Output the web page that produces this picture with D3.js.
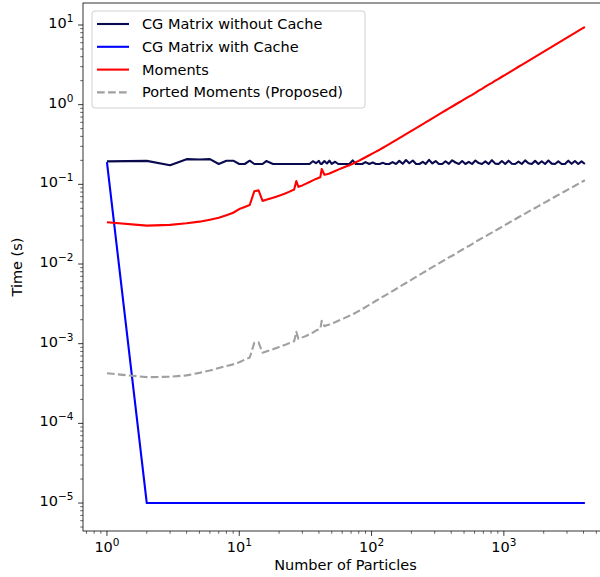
<!DOCTYPE html>
<html>
<head>
<meta charset="utf-8">
<script src="https://cdn.jsdelivr.net/npm/d3@7"></script>
<style>
  body { margin: 0; background: #fff; }
  text { font-family: "DejaVu Sans", sans-serif; fill: #000; }
</style>
</head>
<body>
<div id="chart"></div>
<script>
// particle counts (shared x for the three measured series)
var particles = [1,2,3,4,5,6,7,8,9,10,11,12,13,14,15,16,18,20,22,24,26,27,28,30,32,34,36,38,40,41,42,44,46,48,50,53,56,60,64,68,72,76,80,85,90,96,
  102,108,115,122,128,136,144,153,162,172,182,193,205,217,230,244,256,272,288,305,323,342,362,384,407,431,457,484,512,543,575,609,645,683,724,767,812,861,912,966,
  1024,1085,1149,1217,1290,1366,1448,1534,1625,1722,1824,1932,2048,2170,2299,2435,2580,2733,2896,3068,3250,3444,3648,3865,4096];

var cgNoCache = [0.194,0.197,0.174,0.207,0.205,0.207,0.180,0.198,0.198,0.180,0.180,0.198,0.180,0.180,0.180,0.196,0.180,0.180,0.180,0.180,0.180,0.180,0.180,0.180,0.180,
  0.180,0.195,0.184,0.197,0.182,0.180,0.196,0.183,0.198,0.181,0.192,0.180,0.180,0.180,0.180,0.200,0.180,0.180,0.180,0.190,0.180,
  0.188,0.180,0.180,0.186,0.180,0.180,0.190,0.180,0.197,0.181,0.202,0.184,0.199,0.180,0.180,0.192,0.180,0.203,0.183,0.196,0.180,0.180,0.195,0.181,0.200,0.188,0.180,0.196,0.180,0.192,0.180,0.199,0.185,0.180,0.194,0.180,0.201,0.182,0.180,0.196,
  0.180,0.198,0.181,0.180,0.193,0.180,0.200,0.184,0.180,0.197,0.180,0.195,0.180,0.199,0.182,0.180,0.194,0.180,0.180,0.198,0.181,0.196,0.180,0.194,0.180];

var moments = [0.0334,0.0303,0.031,0.0325,0.034,0.036,0.038,0.041,0.044,0.049,0.052,0.055,0.082,0.084,0.062,0.064,0.068,0.072,0.076,0.081,0.086,0.110,0.093,0.097,0.102,0.107,0.112,0.117,0.121,0.123,0.156,0.132,0.134,0.137,0.141,0.147,0.153,0.160,0.167,0.174,0.181,0.189,0.197,0.208,0.219,0.232,
  0.245,0.257,0.272,0.288,0.302,0.320,0.338,0.359,0.380,0.404,0.427,0.452,0.480,0.508,0.538,0.571,0.598,0.636,0.673,0.712,0.754,0.798,0.845,0.896,0.949,1.005,1.065,1.126,1.19,1.26,1.33,1.41,1.50,1.58,1.68,1.78,1.88,2.00,2.11,2.24,
  2.37,2.51,2.66,2.82,2.99,3.16,3.35,3.55,3.76,3.98,4.22,4.47,4.74,5.02,5.32,5.64,5.97,6.33,6.70,7.10,7.52,7.97,8.44,8.94,9.44];

var ported = [4.25e-4,3.8e-4,3.85e-4,4.0e-4,4.3e-4,4.6e-4,4.95e-4,5.25e-4,5.5e-4,5.85e-4,6.3e-4,6.7e-4,1.03e-3,1.04e-3,7.7e-4,8.0e-4,8.5e-4,9.1e-4,9.6e-4,1.02e-3,1.07e-3,1.41e-3,1.15e-3,1.20e-3,1.25e-3,1.32e-3,1.38e-3,1.46e-3,1.51e-3,1.54e-3,1.94e-3,1.66e-3,1.70e-3,1.74e-3,1.79e-3,1.86e-3,1.94e-3,2.04e-3,2.14e-3,2.24e-3,2.35e-3,2.45e-3,2.57e-3,2.72e-3,2.88e-3,3.07e-3,
  3.26e-3,3.46e-3,3.67e-3,3.89e-3,4.08e-3,4.33e-3,4.58e-3,4.86e-3,5.15e-3,5.46e-3,5.78e-3,6.12e-3,6.50e-3,6.88e-3,7.29e-3,7.73e-3,8.11e-3,8.61e-3,9.12e-3,9.64e-3,1.02e-2,1.08e-2,1.14e-2,1.21e-2,1.27e-2,1.35e-2,1.43e-2,1.51e-2,1.60e-2,1.68e-2,1.78e-2,1.89e-2,2.00e-2,2.11e-2,2.22e-2,2.35e-2,2.48e-2,2.62e-2,2.77e-2,2.93e-2,
  3.10e-2,3.27e-2,3.46e-2,3.65e-2,3.86e-2,4.07e-2,4.30e-2,4.54e-2,4.78e-2,5.05e-2,5.33e-2,5.63e-2,5.94e-2,6.27e-2,6.62e-2,6.98e-2,7.36e-2,7.76e-2,8.18e-2,8.63e-2,9.10e-2,9.60e-2,0.1012,0.1067,0.1125];

// cached CG matrix: only sampled at a few counts
var cacheParticles = [1, 2, 4096];
var cgCache = [0.19, 1e-5, 1e-5];

var seriesNames = ["CG Matrix without Cache", "CG Matrix with Cache", "Moments", "Ported Moments (Proposed)"];
var seriesColors = ["#0a0a4e", "#0000ff", "#ff0000", "#a0a0a0"];
var xTickExps = [0, 1, 2, 3];
var yTickExps = [1, 0, -1, -2, -3, -4, -5];

var W = 600, H = 577;
var plot = { left: 83, right: 608, top: 3, bottom: 531 };
var fontPx = "14.5px", supPx = "10.5px";

var svg = d3.select("#chart").append("svg")
    .attr("width", W)
    .attr("height", H);

var x = d3.scaleLog()
    .domain([Math.pow(10, -0.181), Math.pow(10, 3.787)])
    .range([plot.left, plot.right]);

var y = d3.scaleLog()
    .domain([Math.pow(10, -5.351), Math.pow(10, 1.276)])
    .range([plot.bottom, plot.top]);

svg.append("defs").append("clipPath").attr("id", "clip")
  .append("rect")
    .attr("x", plot.left).attr("y", plot.top)
    .attr("width", plot.right - plot.left).attr("height", plot.bottom - plot.top);

// minor ticks at 2..9 x 10^k
function minorTicks(lo, hi) {
    var out = [];
    for (var e = lo; e <= hi; e++) {
        for (var m = 2; m < 10; m++) out.push(m * Math.pow(10, e));
    }
    return out;
}

function expText(d) { return d < 0 ? "\u2212" + (-d) : d; }

var xAxis = svg.append("g").attr("transform", "translate(0," + plot.bottom + ")");
xAxis.selectAll(".minor").data(minorTicks(-1, 3).filter(function(v) { return v >= x.domain()[0] && v <= x.domain()[1]; }))
  .enter().append("line")
    .attr("x1", function(d) { return x(d); }).attr("x2", function(d) { return x(d); })
    .attr("y1", 0).attr("y2", 2.8)
    .attr("stroke", "#000").attr("stroke-width", 0.6);
xAxis.selectAll(".major").data(xTickExps).enter().append("line")
    .attr("x1", function(d) { return x(Math.pow(10, d)); }).attr("x2", function(d) { return x(Math.pow(10, d)); })
    .attr("y1", 0).attr("y2", 4.9)
    .attr("stroke", "#000").attr("stroke-width", 0.8);
var xl = xAxis.selectAll(".lab").data(xTickExps).enter().append("text")
    .attr("x", function(d) { return x(Math.pow(10, d)); })
    .attr("y", 21)
    .attr("text-anchor", "middle")
    .style("font-size", fontPx);
xl.append("tspan").text("10");
xl.append("tspan").attr("dy", -6).style("font-size", supPx).text(expText);

var yAxis = svg.append("g").attr("transform", "translate(" + plot.left + ",0)");
yAxis.selectAll(".minor").data(minorTicks(-6, 1).filter(function(v) { return v >= y.domain()[0] && v <= y.domain()[1]; }))
  .enter().append("line")
    .attr("y1", function(d) { return y(d); }).attr("y2", function(d) { return y(d); })
    .attr("x1", 0).attr("x2", -2.8)
    .attr("stroke", "#000").attr("stroke-width", 0.6);
yAxis.selectAll(".major").data(yTickExps).enter().append("line")
    .attr("y1", function(d) { return y(Math.pow(10, d)); }).attr("y2", function(d) { return y(Math.pow(10, d)); })
    .attr("x1", 0).attr("x2", -4.9)
    .attr("stroke", "#000").attr("stroke-width", 0.8);
var yl = yAxis.selectAll(".lab").data(yTickExps).enter().append("text")
    .attr("x", -9.5)
    .attr("y", function(d) { return y(Math.pow(10, d)) + 3; })
    .attr("text-anchor", "end")
    .style("font-size", fontPx);
yl.append("tspan").text("10");
yl.append("tspan").attr("dy", -6).style("font-size", supPx).text(expText);

// axis titles
svg.append("text")
    .attr("x", (plot.left + plot.right) / 2 - 0)
    .attr("y", 570)
    .attr("text-anchor", "middle")
    .style("font-size", fontPx)
    .text("Number of Particles");
svg.append("text")
    .attr("transform", "translate(22," + ((plot.top + plot.bottom) / 2) + ") rotate(-90)")
    .attr("text-anchor", "middle")
    .style("font-size", fontPx)
    .text("Time (s)");

// lines
var line = d3.line()
    .x(function(d) { return x(d[0]); })
    .y(function(d) { return y(d[1]); });

var g = svg.append("g").attr("clip-path", "url(#clip)");

function drawSeries(xs, ys, color, dash) {
    g.append("path")
        .datum(d3.zip(xs, ys))
        .attr("d", line)
        .attr("fill", "none")
        .attr("stroke", color)
        .attr("stroke-width", 2.1)
        .attr("stroke-linejoin", "round")
        .attr("stroke-dasharray", dash || null);
}

drawSeries(particles, cgNoCache, seriesColors[0]);
drawSeries(cacheParticles, cgCache, seriesColors[1]);
drawSeries(particles, moments, seriesColors[2]);
drawSeries(particles, ported, seriesColors[3], "7.7,3.3");

// frame (right edge falls just outside the picture)
svg.append("rect")
    .attr("x", plot.left).attr("y", plot.top)
    .attr("width", plot.right - plot.left).attr("height", plot.bottom - plot.top)
    .attr("fill", "none").attr("stroke", "#000").attr("stroke-width", 0.8);

// legend
var legend = svg.append("g").attr("transform", "translate(92,11)");
legend.append("rect")
    .attr("width", 273).attr("height", 97)
    .attr("rx", 3)
    .attr("fill", "#fff").attr("fill-opacity", 0.8)
    .attr("stroke", "#d0d0d0").attr("stroke-width", 1);

var items = legend.selectAll(".item").data(seriesNames).enter().append("g")
    .attr("transform", function(d, i) { return "translate(0," + (13 + i * 22.8) + ")"; });
items.append("line")
    .attr("x1", 5).attr("x2", 37)
    .attr("stroke", function(d, i) { return seriesColors[i]; })
    .attr("stroke-width", 2.1)
    .attr("stroke-dasharray", function(d, i) { return i === 3 ? "7.7,3.3" : null; });
items.append("text")
    .attr("x", 50).attr("y", 5)
    .style("font-size", fontPx)
    .text(function(d) { return d; });
</script>
</body>
</html>
